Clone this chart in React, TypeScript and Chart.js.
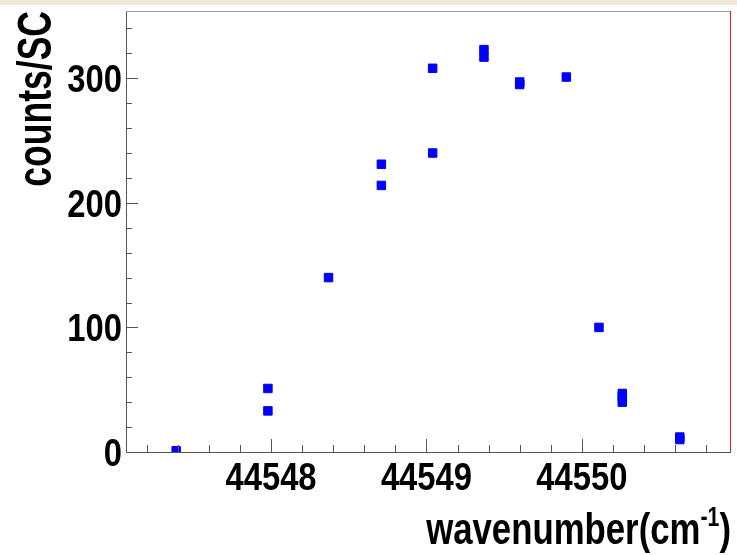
import React, { useEffect, useRef } from "react";
import { Chart, registerables } from "chart.js";

Chart.register(...registerables);

// ---- data ----
const xValues = [
  44547.39, 44547.98, 44547.98, 44548.37, 44548.71, 44548.71, 44549.04, 44549.04,
  44549.37, 44549.37, 44549.6, 44549.6, 44549.9, 44550.11, 44550.26, 44550.26,
  44550.26, 44550.63, 44550.63,
];
const yValues = [
  1, 51, 33, 140, 231, 214, 308, 240, 323, 317, 297, 295, 301, 100, 47, 44, 40, 12, 10,
];
const xTickValues = [44548, 44549, 44550];
const yTickValues = [0, 100, 200, 300];
const xRange = [44547.067, 44550.953];
const yRange = [0, 354];
const xMinorStep = 0.2;
const yMinorStep = 20;
const xTitleMain = "wavenumber(cm";
const xTitleSup = "-1";
const xTitleEnd = ")";
const yTitle = "counts/SC";

const FONT = "'Liberation Sans', Arial, Helvetica, sans-serif";

// draws text horizontally condensed (the reference uses a narrow bold face)
function condensedText(
  ctx: CanvasRenderingContext2D,
  text: string,
  x: number,
  y: number,
  size: number,
  sx: number,
  align: CanvasTextAlign,
  rotate = 0
) {
  ctx.save();
  ctx.translate(x, y);
  if (rotate) ctx.rotate(rotate);
  ctx.scale(sx, 1);
  ctx.font = `bold ${size}px ${FONT}`;
  ctx.textAlign = align;
  ctx.textBaseline = "alphabetic";
  ctx.fillStyle = "#000000";
  ctx.fillText(text, 0, 0);
  ctx.restore();
}

const framePlugin = {
  id: "rootFrame",
  beforeDraw(chart: any) {
    const { ctx, width, height } = chart;
    ctx.save();
    ctx.fillStyle = "#ffffff";
    ctx.fillRect(0, 0, width, height);
    ctx.fillStyle = "#ece9d8";
    ctx.fillRect(0, 0, width, 5);
    ctx.restore();
  },
  afterDraw(chart: any) {
    const { ctx } = chart;
    const { left, top, right, bottom } = chart.chartArea;
    const xs = chart.scales.x;
    const ys = chart.scales.y;
    ctx.save();
    ctx.strokeStyle = "#9a9a9a";
    ctx.lineWidth = 1;
    ctx.beginPath();
    ctx.moveTo(left, Math.round(top) + 0.5);
    ctx.lineTo(right, Math.round(top) + 0.5);
    ctx.stroke();
    ctx.strokeStyle = "#e02020";
    ctx.beginPath();
    ctx.moveTo(Math.round(right) + 0.5, top);
    ctx.lineTo(Math.round(right) + 0.5, bottom);
    ctx.stroke();

    // inward ticks
    ctx.strokeStyle = "#555555";
    const iMin = Math.ceil(xRange[0] / xMinorStep - 1e-6);
    const iMax = Math.floor(xRange[1] / xMinorStep + 1e-6);
    for (let i = iMin; i <= iMax; i++) {
      const v = i * xMinorStep;
      const major = xTickValues.some((t) => Math.abs(t - v) < 1e-6);
      const px = Math.round(xs.getPixelForValue(v)) + 0.5;
      const len = major ? 13 : 7;
      ctx.beginPath();
      ctx.moveTo(px, bottom);
      ctx.lineTo(px, bottom - len);
      ctx.stroke();
    }
    const jMax = Math.floor(yRange[1] / yMinorStep);
    for (let j = 0; j <= jMax; j++) {
      const v = j * yMinorStep;
      const major = yTickValues.some((t) => Math.abs(t - v) < 1e-6);
      const py = Math.round(ys.getPixelForValue(v)) + 0.5;
      const len = major ? 12 : 6;
      ctx.beginPath();
      ctx.moveTo(left, py);
      ctx.lineTo(left + len, py);
      ctx.stroke();
    }
    ctx.restore();

    // tick labels
    const tickSize = 39;
    const tickSx = 0.84;
    xs.ticks.forEach((t: any) => {
      const px = xs.getPixelForValue(t.value);
      condensedText(ctx, String(t.value), px, bottom + 38, tickSize, tickSx, "center");
    });
    ys.ticks.forEach((t: any) => {
      const py = ys.getPixelForValue(t.value);
      condensedText(ctx, String(t.value), left - 4, py + 0.358 * tickSize, tickSize, tickSx, "right");
    });

    // x-axis title with superscript
    const mainSize = 44;
    const supSize = 27;
    const tsx = 0.79;
    ctx.save();
    ctx.font = `bold ${mainSize}px ${FONT}`;
    const wMain = ctx.measureText(xTitleMain).width * tsx;
    const wEnd = ctx.measureText(xTitleEnd).width * tsx;
    ctx.font = `bold ${supSize}px ${FONT}`;
    const wSup = ctx.measureText(xTitleSup).width * tsx;
    ctx.restore();
    const endX = 731;
    const baseY = 544;
    const startX = endX - (wMain + wSup + wEnd);
    condensedText(ctx, xTitleMain, startX, baseY, mainSize, tsx, "left");
    condensedText(ctx, xTitleSup, startX + wMain, baseY - 18, supSize, tsx, "left");
    condensedText(ctx, xTitleEnd, startX + wMain + wSup, baseY, mainSize, tsx, "left");

    // y-axis title (rotated, aligned to the top)
    condensedText(ctx, yTitle, 51, top, 48, 0.74, "right", -Math.PI / 2);
  },
};

export default function App() {
  const canvasRef = useRef<HTMLCanvasElement | null>(null);

  useEffect(() => {
    if (!canvasRef.current) return;
    const points = xValues.map((x, i) => ({ x, y: yValues[i] }));
    const chart = new Chart(canvasRef.current, {
      type: "scatter",
      data: {
        datasets: [
          {
            data: points,
            pointStyle: "rect",
            pointRadius: 6,
            pointBorderWidth: 1,
            backgroundColor: "#0000ff",
            borderColor: "#0000ff",
            showLine: false,
          },
        ],
      },
      options: {
        animation: false,
        responsive: false,
        events: [],
        layout: { padding: { top: 11, right: 4, left: 0, bottom: 0 } },
        plugins: { legend: { display: false }, tooltip: { enabled: false } },
        scales: {
          x: {
            type: "linear",
            min: xRange[0],
            max: xRange[1],
            afterFit: (s: any) => {
              s.height = 103;
              s.paddingLeft = 0;
              s.paddingRight = 0;
            },
            afterBuildTicks: (s: any) => {
              s.ticks = xTickValues.map((v) => ({ value: v }));
            },
            grid: { display: false, drawTicks: false },
            border: { display: true, color: "#555555", width: 1 },
            ticks: { display: false },
          },
          y: {
            type: "linear",
            min: yRange[0],
            max: yRange[1],
            afterFit: (s: any) => {
              s.width = 126;
              s.paddingTop = 0;
              s.paddingBottom = 0;
            },
            afterBuildTicks: (s: any) => {
              s.ticks = yTickValues.map((v) => ({ value: v }));
            },
            grid: { display: false, drawTicks: false },
            border: { display: true, color: "#555555", width: 1 },
            ticks: { display: false },
          },
        },
      },
      plugins: [framePlugin],
    });
    return () => chart.destroy();
  }, []);

  return (
    <div style={{ position: "fixed", left: 0, top: 0, width: 737, height: 555, background: "#fff" }}>
      <canvas ref={canvasRef} width={737} height={555} style={{ display: "block" }} />
    </div>
  );
}
